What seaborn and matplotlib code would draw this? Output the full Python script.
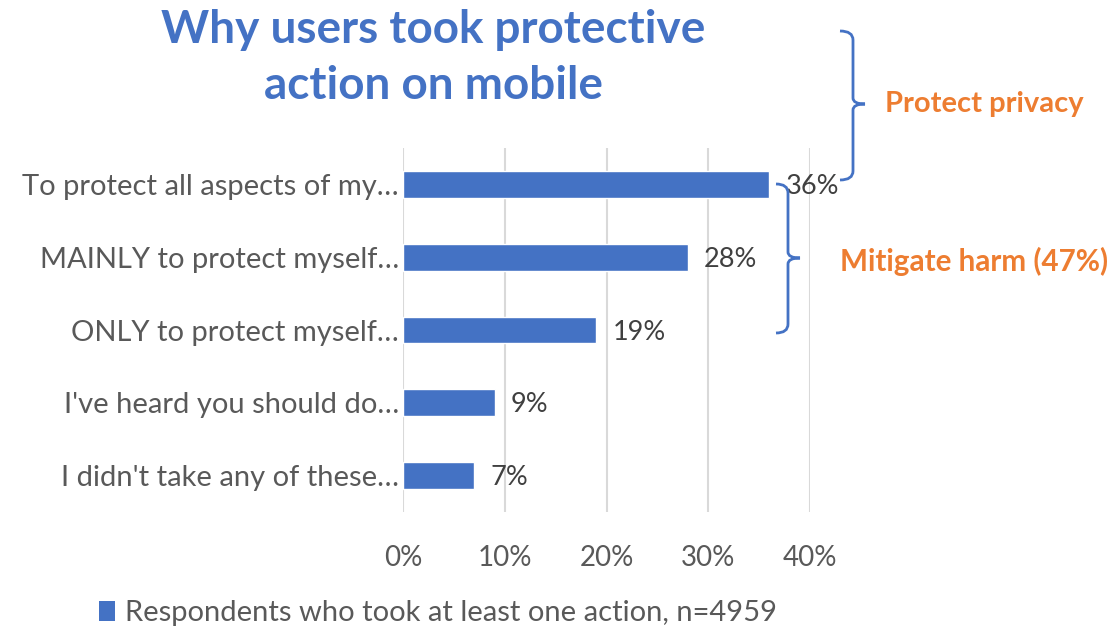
import matplotlib
matplotlib.use("Agg")
import matplotlib.pyplot as plt
from matplotlib.path import Path
from matplotlib.patches import PathPatch, Patch
import seaborn as sns
import pandas as pd

categories = [
    "To protect all aspects of my…",
    "MAINLY to protect myself…",
    "ONLY to protect myself…",
    "I've heard you should do…",
    "I didn't take any of these…",
]
values = [36, 28, 19, 9, 7]
value_labels = ["36%", "28%", "19%", "9%", "7%"]
x_ticks = [0, 10, 20, 30, 40]
x_tick_labels = ["0%", "10%", "20%", "30%", "40%"]
title_lines = ["Why users took protective", "action on mobile"]
legend_label = "Respondents who took at least one action, n=4959"
group_labels = ["Protect privacy", "Mitigate harm (47%)"]

sns.set_style("white")
plt.rcParams['font.family'] = ['Lato', 'DejaVu Sans']

W, H = 1116, 629
fig = plt.figure(figsize=(W / 100, H / 100), dpi=100)

def fx(x):
    return x / W

def fy(y):
    return 1 - y / H

ax = fig.add_axes([fx(403), fy(512), fx(810) - fx(403), fy(148) - fy(512)])

df = pd.DataFrame({"category": categories, "value": values})
BLUE = "#4472C4"
sns.barplot(data=df, x="value", y="category", orient="h", color=BLUE,
            width=0.37, ax=ax, saturation=1)

ax.set_xlim(0, 40)
ax.set_ylim(4.5, -0.5)
ax.set_xticks(x_ticks)
ax.set_xticklabels(x_tick_labels)
ax.grid(axis="x", color="#D9D9D9", linewidth=1.5)
ax.set_axisbelow(True)
for s in ax.spines.values():
    s.set_visible(False)
ax.tick_params(axis="x", length=0, pad=24, labelsize=20, labelcolor="#595959")
ax.tick_params(axis="y", length=0, pad=3, labelsize=21, labelcolor="#595959")
ax.set_xlabel("")
ax.set_ylabel("")

for i, (v, lab) in enumerate(zip(values, value_labels)):
    ax.text(v + 1.6, i + 0.03, lab, va="center", ha="left", fontsize=19.5, color="#404040")

fig.text(fx(433), fy(30), title_lines[0], ha="center", va="center", fontsize=33,
         fontweight="bold", color=BLUE)
fig.text(fx(433), fy(86), title_lines[1], ha="center", va="center", fontsize=33,
         fontweight="bold", color=BLUE)

# braces
def brace(xl, xv, xt, y0, ym, y1):
    r = 9
    verts = [
        (xl, y0), (xv, y0), (xv, y0 + r),
        (xv, ym - 6), (xv, ym), (xt, ym),
        (xv, ym), (xv, ym + 6),
        (xv, y1 - r), (xv, y1), (xl, y1),
    ]
    codes = [Path.MOVETO, Path.CURVE3, Path.CURVE3,
             Path.LINETO, Path.CURVE3, Path.CURVE3,
             Path.CURVE3, Path.CURVE3,
             Path.LINETO, Path.CURVE3, Path.CURVE3]
    verts = [(fx(a), fy(b)) for a, b in verts]
    p = PathPatch(Path(verts, codes), transform=fig.transFigure, fill=False,
                  edgecolor=BLUE, linewidth=2)
    fig.add_artist(p)

brace(840, 853, 865, 31, 104, 180)
brace(776, 788, 800, 184, 258, 333)

ORANGE = "#ED7D31"
fig.text(fx(885), fy(104), group_labels[0], ha="left", va="center", fontsize=21,
         fontweight="bold", color=ORANGE)
fig.text(fx(840), fy(261), group_labels[1], ha="left", va="center", fontsize=21.3,
         fontweight="bold", color=ORANGE)

# legend
handle = Patch(facecolor=BLUE, edgecolor="none")
fig.legend([handle], [legend_label], loc="center left",
           bbox_to_anchor=(fx(99), fy(613)), frameon=False, fontsize=21,
           labelcolor="#595959", handlelength=0.55, handleheight=0.7,
           handletextpad=0.35, borderpad=0, borderaxespad=0)

fig.savefig("out.png", dpi=100)
